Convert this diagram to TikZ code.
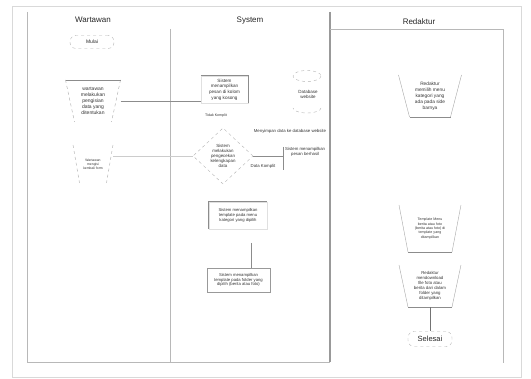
\documentclass[tikz,border=0pt]{standalone}
\usepackage{fontspec}
\setmainfont{Liberation Sans}
\usetikzlibrary{shapes.geometric,calc,positioning}

\begin{document}
\begin{tikzpicture}[x=1pt,y=-1pt,
        lane/.style={draw=black!28,line width=0.7pt},
        conn/.style={draw=black!45,line width=0.6pt},
        mside/.style={draw=black!35,line width=0.4pt},
        head/.style={font=\fontsize{8}{9}\selectfont,text=black!85},
        tiny/.style={font=\fontsize{4.3}{5}\selectfont,text=black!80,align=center,inner sep=0.5pt},
        manop/.style={rectangle,align=center,inner sep=0pt,text=black!80},
        procbox/.style={rectangle,draw=black!12,line width=0.5pt,align=center,
            inner sep=1pt,text=black!80},
        term/.style={rectangle,rounded corners=6pt,draw=black!30,dashed,
            line width=0.4pt,inner sep=1pt,text=black!85}]

  \useasboundingbox (0,0) rectangle (531,379);

  % lanes
  \draw[black!15,line width=0.8pt] (12,6) rectangle (521,377);
  \draw[lane] (27,12) -- (27,362) -- (170,362);
  \draw[lane] (170,29) -- (170,362) -- (330,362);
  \draw[lane,draw=black!40,line width=1.1pt] (330,12) -- (330,362);
  \draw[lane] (330,29) -- (503,29) -- (503,363);

  \node[head] (hw) at (93,20) {Wartawan};
  \node[head] (hs) at (250,21) {System};
  \node[head] (hr) at (419,22) {Redaktur};

  % Wartawan
  \node[term,font=\fontsize{5}{6}\selectfont,minimum width=44,minimum height=13] (mulai) at (92,42) {Mulai};
  \node[manop,minimum width=55,minimum height=42,font=\fontsize{5}{5.8}\selectfont]
      (w1) at (93,101) {wartawan\\melakukan\\pengisian\\data yang\\ditentukan};
  \draw[mside,dashed] ($(w1)+(-27.5,-21)$) -- ($(w1)+(-18.5,21)$)
                      ($(w1)+(27.5,-21)$) -- ($(w1)+(18.5,21)$);
  \draw[conn] ($(w1)+(-27.5,-21)$) -- ($(w1)+(27.5,-21)$);
  \node[manop,minimum width=40,minimum height=38,font=\fontsize{3.4}{4}\selectfont]
      (w2) at (93,164) {Wartawan\\mengisi\\kembali form};
  \draw[mside,dashed] ($(w2)+(-20,-19)$) -- ($(w2)+(-13.5,19)$)
                      ($(w2)+(20,-19)$) -- ($(w2)+(13.5,19)$);

  % System
  \node[procbox,minimum width=47,minimum height=27,font=\fontsize{4.6}{5.6}\selectfont]
      (s1) at (224.5,89.5) {Sistem\\menampilkan\\pesan di kolom\\yang kosong};
  \draw[conn] (s1.north west) -- (s1.north east) -- (s1.south east);
  \node[tiny,font=\fontsize{3.6}{4.2}\selectfont] (tidak) at (216,116) {Tidak Komplit};

  \node[diamond,draw=black!30,dashed,line width=0.4pt,minimum width=60,minimum height=56,
      inner sep=0pt,align=center,font=\fontsize{4.4}{5}\selectfont,text=black!80]
      (cek) at (223,156) {Sistem\\melakukan\\pengecekan\\kelengkapan\\data};
  \node[tiny,inner xsep=2pt,anchor=north west] (sukses) at (283,147) {Sistem menampilkan\\pesan berhasil};
  \draw[conn] (sukses.north west) -- ++(0,23);
  \node[tiny] (komplit) at (263,166) {Data Komplit};

  \draw[black!30,dashed,line width=0.4pt] (307,76) ellipse [x radius=14,y radius=5.5];
  \draw[black!30,dashed,line width=0.4pt] (321,108) arc (0:180:14 and 5);
  \node[tiny,font=\fontsize{4.5}{5.2}\selectfont] (db) at (308,94) {Database\\website};
  \node[tiny] (simpan) at (290,131) {Menyimpan data ke database website};

  \node[procbox,minimum width=58,minimum height=27,font=\fontsize{4.2}{5}\selectfont]
      (s2) at (238,215.5) {Sistem menampilkan\\template pada menu\\kategori yang dipilih};
  \draw[conn] (s2.south west) -- (s2.north west) -- (s2.north east);
  \node[procbox,draw=black!40,minimum width=63,minimum height=24,font=\fontsize{4.2}{4.8}\selectfont]
      (s3) at (238.5,280) {Sistem menampilkan\\template pada folder yang\\dipilih (berita atau foto)};
  \coordinate (s2out) at (251,243);

  % Redaktur
  \node[manop,minimum width=63,minimum height=42,font=\fontsize{4.8}{6}\selectfont]
      (r1) at (430,96) {Redaktur\\memilih menu\\kategori yang\\ada pada side\\barnya};
  \draw[mside] ($(r1)+(-31.5,-21)$) -- ($(r1)+(-20.5,21)$)
               ($(r1)+(31.5,-21)$) -- ($(r1)+(20.5,21)$);
  \draw[conn] ($(r1)+(-20.5,21)$) -- ($(r1)+(20.5,21)$);
  \node[manop,minimum width=62,minimum height=47,font=\fontsize{3.6}{4.4}\selectfont]
      (r2) at (430,228.5) {Template Menu\\berita atau foto\\(berita atau foto) di\\template yang\\ditampilkan};
  \draw[mside] ($(r2)+(-31,-23.5)$) -- ($(r2)+(-22,23.5)$)
               ($(r2)+(31,-23.5)$) -- ($(r2)+(22,23.5)$);
  \draw[conn] ($(r2)+(-22,23.5)$) -- ($(r2)+(22,23.5)$);
  \node[manop,minimum width=62,minimum height=42,font=\fontsize{4.3}{5}\selectfont]
      (r3) at (430,286) {Redaktur\\mendownload\\file foto atau\\berita dari dalam\\folder yang\\ditampilkan};
  \draw[mside] ($(r3)+(-31,-21)$) -- ($(r3)+(-22,21)$)
               ($(r3)+(31,-21)$) -- ($(r3)+(22,21)$);
  \draw[conn] ($(r3)+(-22,21)$) -- ($(r3)+(22,21)$);
  \node[term,font=\fontsize{7.5}{8.5}\selectfont,minimum width=44,minimum height=15] (selesai) at (430,339) {Selesai};

  % connectors
  \draw[conn] (w1.east) -- (w1.east -| s1.west);
  \draw[conn,draw=black!20] (w2.east |- cek.west) -- (cek.west);
  \draw[conn] (cek.east) -- (cek.east -| sukses.west);
  \draw[conn] (s2out) -- (s2out |- s3.north);
  \draw[conn,draw=black!55] (r3.south) -- (selesai.north);

\end{tikzpicture}
\end{document}
